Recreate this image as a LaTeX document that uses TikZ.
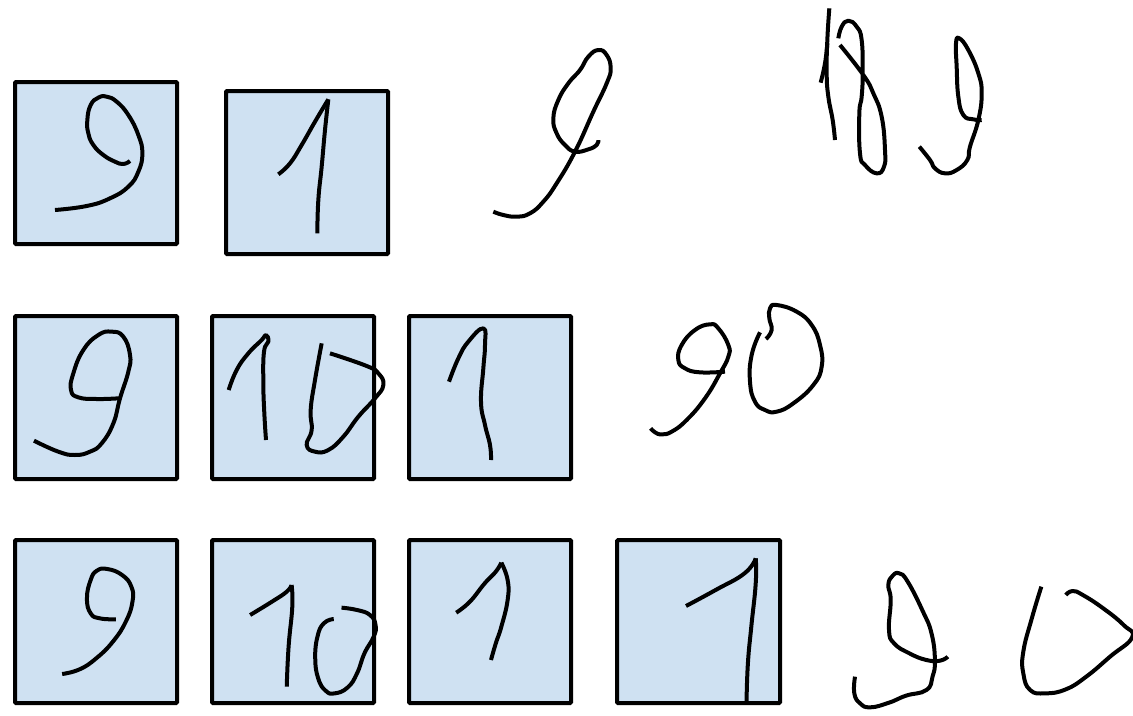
\documentclass[tikz,border=0pt]{standalone}
\definecolor{panelblue}{RGB}{207,225,242}
\tikzset{
  panel/.style={draw=black,fill=panelblue,line width=3pt,rounded corners=0.8pt},
  ink/.style={draw=black,line width=3pt,line join=round,line cap=butt},
  pen/.style={smooth,tension=0.8},
  zoomthree/.style={x=0.25pt,y=-0.25pt},
}
\newcommand{\pbox}[4]{\draw[panel] (#1*0.75pt,-#2*0.75pt) rectangle (#3*0.75pt,-#4*0.75pt);}
\begin{document}
\begin{tikzpicture}
\useasboundingbox (0,0) rectangle (849.75pt,-536.25pt);
\pbox{15}{82}{177}{244}
\pbox{226}{91}{388}{254}
\pbox{15}{316}{177}{479}
\pbox{212}{316}{374}{479}
\pbox{409}{316}{571}{479}
\pbox{15}{540}{177}{703}
\pbox{212}{540}{374}{703}
\pbox{409}{540}{571}{703}
\pbox{617}{540}{780}{703}

% top row, boxes
\begin{scope}[zoomthree]
\draw[ink] plot[pen] coordinates {(390,483)(370,492)(345,485)(310,465)(280,435)(265,400)(262,360)(272,315)(295,293)(320,290)(350,305)(385,345)(415,405)(427,460)(415,515)(385,560)(330,595)(260,618)(165,630)};
\draw[ink] plot[pen] coordinates {(835,523)(870,490)(905,435)(945,365)(985,298)};
\draw[ink] plot[pen] coordinates {(985,298)(975,390)(965,500)(955,600)(952,700)};
\end{scope}

% top row, free digits
\begin{scope}[zoomthree,xshift=360pt]
\draw[ink] plot[pen] coordinates {(355,420)(350,435)(325,448)(285,455)(255,435)(230,400)(220,355)(235,300)(265,250)(300,210)(325,170)(355,150)(380,165)(392,205)(380,250)(340,335)(285,455)(230,550)(190,605)(150,640)(110,650)(70,645)(40,635)};
\draw[ink] plot[pen] coordinates {(1048,25)(1042,120)(1040,220)(1045,290)(1058,360)(1065,420)};
\draw[ink] plot[pen] coordinates {(1022,248)(1035,190)(1042,130)};
\draw[ink] plot[pen] coordinates {(1075,115)(1085,80)(1105,62)(1130,80)(1145,120)(1148,220)(1145,290)(1138,340)(1140,460)(1155,495)(1190,520)(1212,500)(1215,450)(1205,350)(1180,280)(1150,225)(1080,135)};
\draw[ink] plot[pen] coordinates {(1505,360)(1480,358)(1450,345)(1435,290)(1430,200)(1428,130)(1438,115)(1465,150)(1495,220)(1505,280)(1495,360)(1470,440)(1462,480)(1430,510)(1395,520)(1365,505)(1350,480)(1318,440)};
\end{scope}

% middle row, first two boxes
\begin{scope}[zoomthree,yshift=-225pt]
\draw[ink] plot[pen] coordinates {(355,295)(290,297)(235,292)(213,270)(220,220)(250,150)(295,105)(335,95)(370,110)(390,165)(385,215)(360,295)(340,370)(305,430)(270,455)(225,465)(175,455)(102,422)};
\draw[ink] plot[pen] coordinates {(686,270)(710,210)(745,160)(785,120)(798,105)(805,125)(792,155)(790,250)(793,340)(798,420)};
\draw[ink] plot[pen] coordinates {(965,130)(945,240)(932,330)(935,390)(920,435)(945,455)(985,450)(1030,410)(1075,350)(1125,295)(1150,255)(1135,220)(1100,198)(990,160)};
\end{scope}

% middle row, third box and free digits
\begin{scope}[zoomthree,xshift=300pt,yshift=-221.25pt]
\draw[ink] plot[pen] coordinates {(147,260)(175,190)(205,140)(250,100)(255,150)(250,220)(243,320)(255,390)(270,450)(273,495)};
\draw[ink] plot[pen] coordinates {(975,230)(900,232)(855,220)(835,195)(845,150)(885,105)(930,88)(955,100)(985,150)(985,185)(960,235)(915,310)(860,375)(815,410)(785,418)(765,412)(752,400)};
\draw[ink] plot[pen] coordinates {(1080,112)(1055,180)(1050,260)(1065,320)(1095,345)(1130,350)(1180,325)(1240,270)(1265,215)(1260,150)(1235,90)(1190,50)(1130,30)(1110,40)(1108,70)(1115,105)(1098,132)};
\end{scope}

% bottom row, first three boxes
\begin{scope}[x=0.2775pt,y=-0.25pt,yshift=-397.5pt]
\draw[ink] plot[pen] coordinates {(313,268)(270,265)(245,250)(235,205)(245,150)(262,122)(290,117)(330,135)(355,170)(358,215)(340,275)(305,335)(260,385)(215,418)(168,432)};
\draw[ink] plot[pen] coordinates {(676,255)(735,215)(775,185)(788,165)};
\draw[ink] plot[pen] coordinates {(788,165)(790,230)(780,350)(775,470)};
\draw[ink] plot[pen] coordinates {(902,267)(875,280)(858,320)(852,385)(860,445)(880,482)(905,490)(940,472)(965,430)(985,370)(1010,320)(1015,285)(1000,255)(965,240)(923,233)};
\draw[ink] plot[pen] coordinates {(1233,248)(1270,215)(1310,160)(1340,125)(1355,98)};
\draw[ink] plot[pen] coordinates {(1355,98)(1372,150)(1372,210)(1355,290)(1340,340)(1327,390)};
\end{scope}

% bottom row, last box and free digits
\begin{scope}[x=0.255pt,y=-0.25pt,xshift=450pt,yshift=-397.5pt]
\draw[ink] plot[pen] coordinates {(253,228)(340,180)(425,130)(458,85)};
\draw[ink] plot[pen] coordinates {(458,85)(458,160)(445,290)(435,400)(431,515)};
\draw[ink] plot[pen] coordinates {(1023,380)(1000,392)(960,390)(910,370)(865,340)(850,300)(855,210)(848,165)(860,138)(880,130)(905,155)(950,245)(975,310)(985,390)(978,440)(960,480)(900,497)(850,518)(795,532)(765,520)(748,490)(750,440)};
\draw[ink] plot[pen] coordinates {(1298,170)(1270,265)(1245,365)(1245,430)(1265,480)(1310,490)(1370,478)(1430,440)(1500,380)(1565,322)(1540,285)(1480,235)(1420,195)(1390,183)(1370,195)};
\end{scope}
\end{tikzpicture}
\end{document}
